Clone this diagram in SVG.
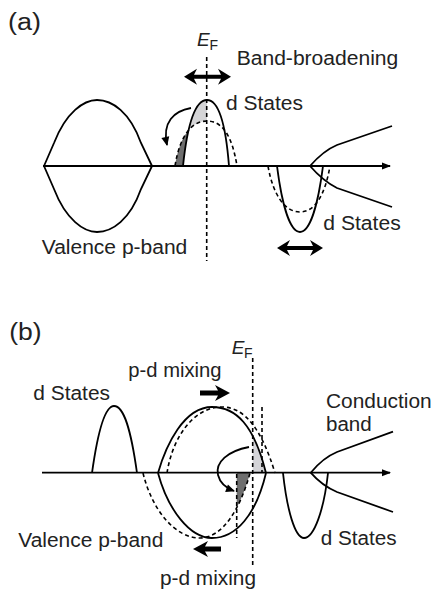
<svg xmlns="http://www.w3.org/2000/svg" width="435" height="594" viewBox="0 0 435 594">
<style>
.c{fill:none;stroke:#000;stroke-width:1.8}
.d{fill:none;stroke:#000;stroke-width:1.6;stroke-dasharray:4,3}
.t{font-family:"Liberation Sans",Arial,sans-serif;font-size:20px;fill:#222}
.p{font-family:"Liberation Sans",Arial,sans-serif;font-size:23px;fill:#222}
.e{font-family:"Liberation Sans",Arial,sans-serif;font-style:italic;font-size:19px;fill:#222}
.s{font-family:"Liberation Sans",Arial,sans-serif;font-size:14px;fill:#222}
.ar{fill:#000}
</style>
<defs>
<marker id="ax" markerUnits="userSpaceOnUse" markerWidth="12" markerHeight="10" refX="8" refY="0" viewBox="0 -5 10 10" orient="auto"><path d="M0,-3.5 L9,0 L0,3.5 Z" fill="#000"/></marker>
<marker id="ah" markerUnits="userSpaceOnUse" markerWidth="12" markerHeight="12" refX="8" refY="0" viewBox="0 -6 10 12" orient="auto"><path d="M0,-4 L9,0 L0,4 Z" fill="#000"/></marker>
<clipPath id="ca"><rect x="150" y="60" width="57" height="106"/></clipPath>
<clipPath id="ca2"><rect x="150" y="131" width="57" height="35"/></clipPath>
<clipPath id="cb"><rect x="252.7" y="400" width="20" height="72.7"/></clipPath>
<clipPath id="cb2"><rect x="236.7" y="472.7" width="20" height="40"/></clipPath>
</defs>

<!-- Panel (a) -->
<g id="panel-a">
<text class="p" x="8" y="30" textLength="33" lengthAdjust="spacingAndGlyphs">(a)</text>
<g id="fills-a">
<path d="M183,166 C187,128 194,100 207,100 C220,100 226,128 229,166 Z M175,166 C180,135 192,121 207,121 C222,121 232,135 237,166 Z" fill="#d4d4d6" fill-rule="evenodd" clip-path="url(#ca)"/>
<path d="M183,166 C187,128 194,100 207,100 C220,100 226,128 229,166 Z M175,166 C180,135 192,121 207,121 C222,121 232,135 237,166 Z" fill="#6e6e6e" fill-rule="evenodd" clip-path="url(#ca2)"/>
</g>
<g id="axis-a"><line class="c" x1="43" y1="166" x2="390" y2="166" marker-end="url(#ax)"/></g>
<g id="valence-a">
<path class="c" d="M44,166 L54,143 C66,112 84,100 97,100 C112,100 130,112 141,143 L152,166"/>
<path class="c" d="M44,166 L54,189 C66,220 84,232 97,232 C112,232 130,220 141,189 L152,166"/>
<text class="t" x="41.7" y="254" textLength="145.6" lengthAdjust="spacingAndGlyphs">Valence p-band</text>
</g>
<g id="dstates-a-top">
<path class="c" d="M183,166 C187,128 194,100 207,100 C220,100 226,128 229,166"/>
<path class="d" d="M175,166 C180,135 192,121 207,121 C222,121 232,135 237,166"/>
<text class="t" x="226" y="110" textLength="77" lengthAdjust="spacingAndGlyphs">d States</text>
</g>
<g id="ef-a">
<line class="d" x1="206.7" y1="57" x2="206.7" y2="261"/>
<text class="e" x="197" y="46">E</text><text class="s" x="209.5" y="50">F</text>
</g>
<g id="broadening-a">
<polygon class="ar" points="184,76.7 197,68.7 194,74.7 221,74.7 218,68.7 231,76.7 218,84.7 221,78.7 194,78.7 197,84.7"/>
<text class="t" x="236.7" y="65" textLength="161.6" lengthAdjust="spacingAndGlyphs">Band-broadening</text>
</g>
<g id="dstates-a-bottom">
<path class="c" d="M277,166 C282,205 290,232 300,232 C310,232 318,205 323,166"/>
<path class="d" d="M268,166 C273,195 285,212 300,212 C315,212 325,195 330,166"/>
<polygon class="ar" points="277,248 290,240 287,246 313,246 310,240 323,248 310,256 313,250 287,250 290,256"/>
<text class="t" x="323.3" y="230" textLength="77.4" lengthAdjust="spacingAndGlyphs">d States</text>
</g>
<g id="conduction-a">
<path class="c" d="M392,126 L337,145 C325,150 317,158 310,166 C317,174 325,182 337,188 L392,207"/>
</g>
<g id="connectors-a">
<path class="c" d="M191,108 C174,111 162,122 167,145" marker-end="url(#ah)"/>
</g>
</g>

<!-- Panel (b) -->
<g id="panel-b">
<text class="p" x="9.3" y="340" textLength="32.4" lengthAdjust="spacingAndGlyphs">(b)</text>
<g id="fills-b">
<path d="M158,473 C166,445 184,407 212,407 C236,407 254,425 266,473 Z" fill="#d4d4d8" clip-path="url(#cb)"/>
<path d="M143,473 C152,510 175,538 200,538 C222,538 240,510 250,473 Z" fill="#6e6e6e" clip-path="url(#cb2)"/>
</g>
<g id="axis-b"><line class="c" x1="42" y1="472.7" x2="390" y2="472.7" marker-end="url(#ax)"/></g>
<g id="dstates-b-left">
<path class="c" d="M92,473 C98,430 105,406 114,406 C124,406 131,430 137,473"/>
<text class="t" x="33.3" y="400" textLength="76.7" lengthAdjust="spacingAndGlyphs">d States</text>
</g>
<g id="valence-b">
<path class="c" d="M158,473 C166,445 184,407 212,407 C236,407 254,425 266,473"/>
<path class="c" d="M158,473 C168,510 190,538 212,538 C236,538 256,515 266,473"/>
<path class="d" d="M167,473 C172,440 192,407 222,407 C245,407 262,430 275,473"/>
<path class="d" d="M143,473 C152,510 175,538 200,538 C222,538 240,510 250,473"/>
<text class="t" x="18.3" y="546.7" textLength="145" lengthAdjust="spacingAndGlyphs">Valence p-band</text>
</g>
<g id="ef-b">
<line class="d" x1="252.7" y1="358" x2="252.7" y2="565"/>
<line class="d" x1="262" y1="407" x2="262" y2="472"/>
<line class="d" x1="236.7" y1="474" x2="236.7" y2="538"/>
<text class="e" x="231.7" y="354.3">E</text><text class="s" x="244" y="358.3">F</text>
</g>
<g id="mixing-b">
<text class="t" x="128.3" y="376.7" textLength="93.3" lengthAdjust="spacingAndGlyphs">p-d mixing</text>
<polygon class="ar" points="200,390.5 218,390.5 215,385 230,393 215,401 218,395.5 200,395.5"/>
<polygon class="ar" points="221,546.5 205,546.5 208,541 193,549 208,557 205,551.5 221,551.5"/>
<text class="t" x="160" y="585" textLength="96" lengthAdjust="spacingAndGlyphs">p-d mixing</text>
</g>
<g id="dstates-b-right">
<path class="c" d="M283,473 C287,510 295,538 304,538 C314,538 324,510 328,473"/>
<text class="t" x="320.7" y="545" textLength="76" lengthAdjust="spacingAndGlyphs">d States</text>
</g>
<g id="conduction-b">
<path class="c" d="M393,431.7 L337,452 C325,457 317,465 310.7,472.7 C317,480 325,487 337,492 L393,512"/>
<text class="t" x="326" y="408.3" textLength="105.7" lengthAdjust="spacingAndGlyphs">Conduction</text>
<text class="t" x="326" y="431" textLength="45.7" lengthAdjust="spacingAndGlyphs">band</text>
</g>
<g id="connectors-b">
<path class="c" d="M249,447 C228,451 215,462 218,475 C220,483 226,488 234,491" marker-end="url(#ah)"/>
</g>
</g>
</svg>
